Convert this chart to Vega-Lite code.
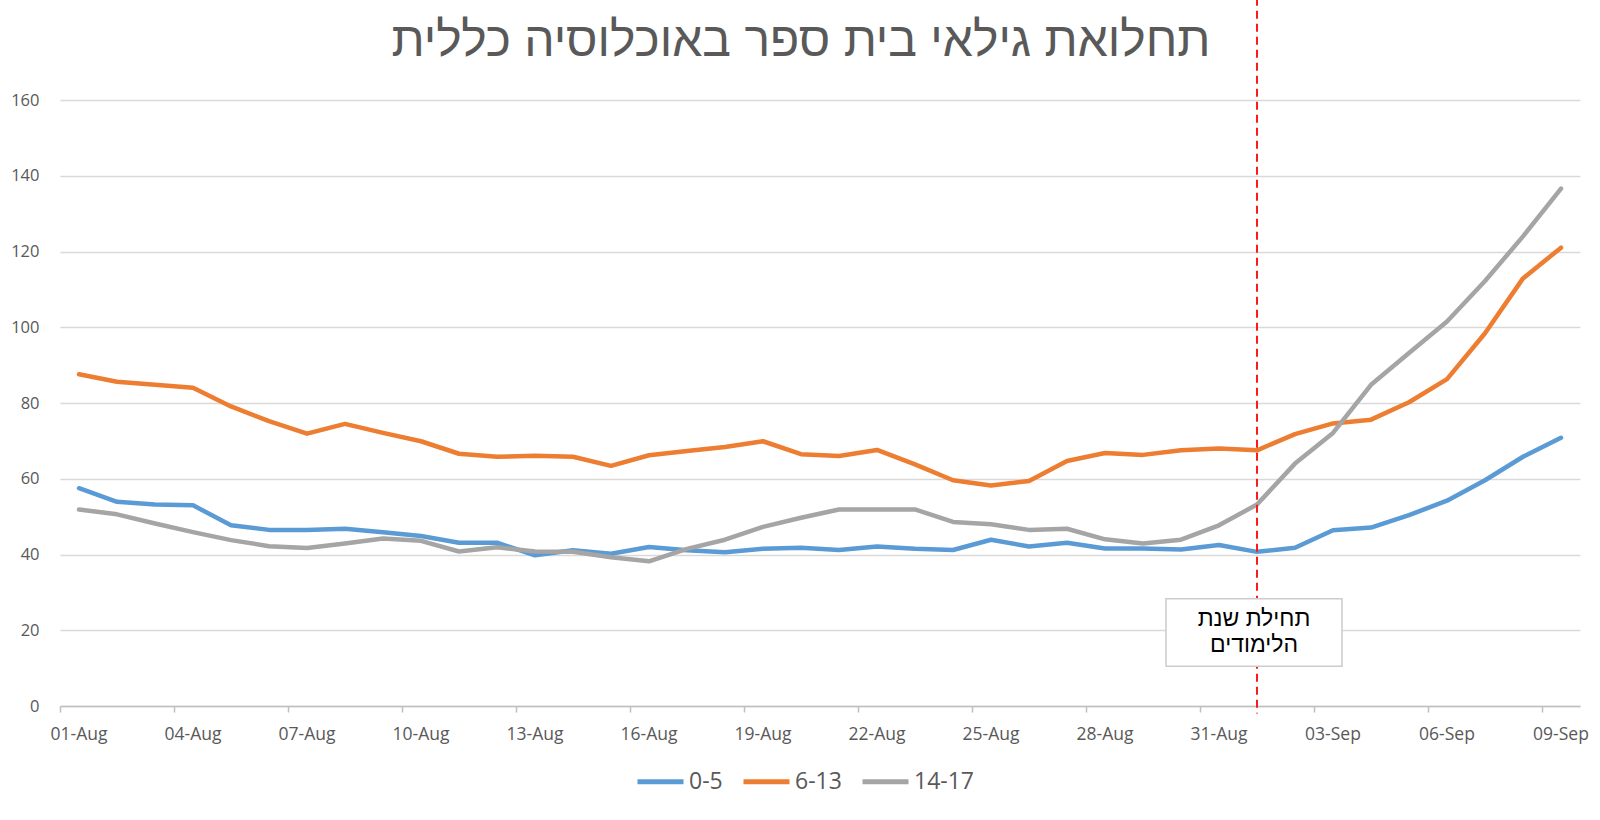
{
  "$schema": "https://vega.github.io/schema/vega-lite/v6.json",
  "autosize": {"type": "none"},
  "width": 1520,
  "height": 606,
  "padding": {"left": 60, "top": 100, "right": 20, "bottom": 114},
  "background": "white",
  "config": {"view": {"stroke": null}, "font": "Liberation Sans"},
  "title": {
    "text": "תחלואת גילאי בית ספר באוכלוסיה כללית",
    "fontSize": 48,
    "font": "Liberation Sans",
    "fontWeight": "normal",
    "color": "#595959",
    "anchor": "middle",
    "baseline": "alphabetic",
    "dx": -19,
    "offset": -107
  },
  "datasets": {
    "series": [
      {"date": "01-Aug", "group": "0-5", "value": 57.5}, {"date": "02-Aug", "group": "0-5", "value": 53.9}, {"date": "03-Aug", "group": "0-5", "value": 53.2}, {"date": "04-Aug", "group": "0-5", "value": 53.0}, {"date": "05-Aug", "group": "0-5", "value": 47.7}, {"date": "06-Aug", "group": "0-5", "value": 46.5}, {"date": "07-Aug", "group": "0-5", "value": 46.5}, {"date": "08-Aug", "group": "0-5", "value": 46.8}, {"date": "09-Aug", "group": "0-5", "value": 45.9}, {"date": "10-Aug", "group": "0-5", "value": 44.9}, {"date": "11-Aug", "group": "0-5", "value": 43.1}, {"date": "12-Aug", "group": "0-5", "value": 43.1}, {"date": "13-Aug", "group": "0-5", "value": 39.8}, {"date": "14-Aug", "group": "0-5", "value": 41.1}, {"date": "15-Aug", "group": "0-5", "value": 40.2}, {"date": "16-Aug", "group": "0-5", "value": 42.0}, {"date": "17-Aug", "group": "0-5", "value": 41.1}, {"date": "18-Aug", "group": "0-5", "value": 40.6}, {"date": "19-Aug", "group": "0-5", "value": 41.5}, {"date": "20-Aug", "group": "0-5", "value": 41.8}, {"date": "21-Aug", "group": "0-5", "value": 41.2}, {"date": "22-Aug", "group": "0-5", "value": 42.1}, {"date": "23-Aug", "group": "0-5", "value": 41.5}, {"date": "24-Aug", "group": "0-5", "value": 41.2}, {"date": "25-Aug", "group": "0-5", "value": 43.9}, {"date": "26-Aug", "group": "0-5", "value": 42.1}, {"date": "27-Aug", "group": "0-5", "value": 43.1}, {"date": "28-Aug", "group": "0-5", "value": 41.6}, {"date": "29-Aug", "group": "0-5", "value": 41.6}, {"date": "30-Aug", "group": "0-5", "value": 41.3}, {"date": "31-Aug", "group": "0-5", "value": 42.5}, {"date": "01-Sep", "group": "0-5", "value": 40.7}, {"date": "02-Sep", "group": "0-5", "value": 41.8}, {"date": "03-Sep", "group": "0-5", "value": 46.4}, {"date": "04-Sep", "group": "0-5", "value": 47.1}, {"date": "05-Sep", "group": "0-5", "value": 50.4}, {"date": "06-Sep", "group": "0-5", "value": 54.2}, {"date": "07-Sep", "group": "0-5", "value": 59.6}, {"date": "08-Sep", "group": "0-5", "value": 65.8}, {"date": "09-Sep", "group": "0-5", "value": 70.8},
      {"date": "01-Aug", "group": "6-13", "value": 87.6}, {"date": "02-Aug", "group": "6-13", "value": 85.6}, {"date": "03-Aug", "group": "6-13", "value": 84.8}, {"date": "04-Aug", "group": "6-13", "value": 84.0}, {"date": "05-Aug", "group": "6-13", "value": 79.1}, {"date": "06-Aug", "group": "6-13", "value": 75.2}, {"date": "07-Aug", "group": "6-13", "value": 71.9}, {"date": "08-Aug", "group": "6-13", "value": 74.5}, {"date": "09-Aug", "group": "6-13", "value": 72.1}, {"date": "10-Aug", "group": "6-13", "value": 69.9}, {"date": "11-Aug", "group": "6-13", "value": 66.6}, {"date": "12-Aug", "group": "6-13", "value": 65.8}, {"date": "13-Aug", "group": "6-13", "value": 66.1}, {"date": "14-Aug", "group": "6-13", "value": 65.8}, {"date": "15-Aug", "group": "6-13", "value": 63.4}, {"date": "16-Aug", "group": "6-13", "value": 66.2}, {"date": "17-Aug", "group": "6-13", "value": 67.3}, {"date": "18-Aug", "group": "6-13", "value": 68.4}, {"date": "19-Aug", "group": "6-13", "value": 69.9}, {"date": "20-Aug", "group": "6-13", "value": 66.5}, {"date": "21-Aug", "group": "6-13", "value": 66.0}, {"date": "22-Aug", "group": "6-13", "value": 67.6}, {"date": "23-Aug", "group": "6-13", "value": 63.8}, {"date": "24-Aug", "group": "6-13", "value": 59.6}, {"date": "25-Aug", "group": "6-13", "value": 58.2}, {"date": "26-Aug", "group": "6-13", "value": 59.4}, {"date": "27-Aug", "group": "6-13", "value": 64.7}, {"date": "28-Aug", "group": "6-13", "value": 66.8}, {"date": "29-Aug", "group": "6-13", "value": 66.3}, {"date": "30-Aug", "group": "6-13", "value": 67.5}, {"date": "31-Aug", "group": "6-13", "value": 68.0}, {"date": "01-Sep", "group": "6-13", "value": 67.5}, {"date": "02-Sep", "group": "6-13", "value": 71.8}, {"date": "03-Sep", "group": "6-13", "value": 74.6}, {"date": "04-Sep", "group": "6-13", "value": 75.6}, {"date": "05-Sep", "group": "6-13", "value": 80.2}, {"date": "06-Sep", "group": "6-13", "value": 86.3}, {"date": "07-Sep", "group": "6-13", "value": 98.4}, {"date": "08-Sep", "group": "6-13", "value": 112.9}, {"date": "09-Sep", "group": "6-13", "value": 121.0},
      {"date": "01-Aug", "group": "14-17", "value": 51.9}, {"date": "02-Aug", "group": "14-17", "value": 50.6}, {"date": "03-Aug", "group": "14-17", "value": 48.2}, {"date": "04-Aug", "group": "14-17", "value": 45.9}, {"date": "05-Aug", "group": "14-17", "value": 43.8}, {"date": "06-Aug", "group": "14-17", "value": 42.2}, {"date": "07-Aug", "group": "14-17", "value": 41.7}, {"date": "08-Aug", "group": "14-17", "value": 42.9}, {"date": "09-Aug", "group": "14-17", "value": 44.2}, {"date": "10-Aug", "group": "14-17", "value": 43.6}, {"date": "11-Aug", "group": "14-17", "value": 40.8}, {"date": "12-Aug", "group": "14-17", "value": 41.9}, {"date": "13-Aug", "group": "14-17", "value": 40.8}, {"date": "14-Aug", "group": "14-17", "value": 40.7}, {"date": "15-Aug", "group": "14-17", "value": 39.3}, {"date": "16-Aug", "group": "14-17", "value": 38.2}, {"date": "17-Aug", "group": "14-17", "value": 41.5}, {"date": "18-Aug", "group": "14-17", "value": 43.9}, {"date": "19-Aug", "group": "14-17", "value": 47.3}, {"date": "20-Aug", "group": "14-17", "value": 49.7}, {"date": "21-Aug", "group": "14-17", "value": 51.9}, {"date": "22-Aug", "group": "14-17", "value": 51.9}, {"date": "23-Aug", "group": "14-17", "value": 51.9}, {"date": "24-Aug", "group": "14-17", "value": 48.6}, {"date": "25-Aug", "group": "14-17", "value": 48.0}, {"date": "26-Aug", "group": "14-17", "value": 46.5}, {"date": "27-Aug", "group": "14-17", "value": 46.8}, {"date": "28-Aug", "group": "14-17", "value": 44.0}, {"date": "29-Aug", "group": "14-17", "value": 42.9}, {"date": "30-Aug", "group": "14-17", "value": 43.9}, {"date": "31-Aug", "group": "14-17", "value": 47.7}, {"date": "01-Sep", "group": "14-17", "value": 53.2}, {"date": "02-Sep", "group": "14-17", "value": 64.0}, {"date": "03-Sep", "group": "14-17", "value": 72.1}, {"date": "04-Sep", "group": "14-17", "value": 84.8}, {"date": "05-Sep", "group": "14-17", "value": 93.2}, {"date": "06-Sep", "group": "14-17", "value": 101.5}, {"date": "07-Sep", "group": "14-17", "value": 112.2}, {"date": "08-Sep", "group": "14-17", "value": 124.0}, {"date": "09-Sep", "group": "14-17", "value": 136.6}
    ],
    "marker": [{"date": "01-Sep", "label": "תחילת שנת\nהלימודים"}]
  },
  "encoding": {
    "x": {
      "field": "date",
      "type": "ordinal",
      "scale": {
        "type": "band",
        "paddingInner": 0,
        "paddingOuter": 0,
        "domain": ["01-Aug","02-Aug","03-Aug","04-Aug","05-Aug","06-Aug","07-Aug","08-Aug","09-Aug","10-Aug","11-Aug","12-Aug","13-Aug","14-Aug","15-Aug","16-Aug","17-Aug","18-Aug","19-Aug","20-Aug","21-Aug","22-Aug","23-Aug","24-Aug","25-Aug","26-Aug","27-Aug","28-Aug","29-Aug","30-Aug","31-Aug","01-Sep","02-Sep","03-Sep","04-Sep","05-Sep","06-Sep","07-Sep","08-Sep","09-Sep"]
      },
      "axis": {
        "title": null,
        "values": ["01-Aug","04-Aug","07-Aug","10-Aug","13-Aug","16-Aug","19-Aug","22-Aug","25-Aug","28-Aug","31-Aug","03-Sep","06-Sep","09-Sep"],
        "bandPosition": 0,
        "labelAngle": 0,
        "labelFont": "Open Sans",
        "labelFontSize": 17.5,
        "labelColor": "#595959",
        "labelPadding": 13,
        "labelBound": false,
        "domainColor": "#BFBFBF",
        "domainWidth": 1.5,
        "tickColor": "#BFBFBF",
        "tickWidth": 1.5,
        "tickSize": 6,
        "grid": false
      }
    }
  },
  "layer": [
    {
      "data": {"name": "series"},
      "mark": {"type": "line", "strokeWidth": 4.5, "strokeCap": "round", "strokeJoin": "round"},
      "encoding": {
        "y": {
          "field": "value",
          "type": "quantitative",
          "scale": {"domain": [0, 160], "nice": false},
          "axis": {
            "title": null,
            "values": [0, 20, 40, 60, 80, 100, 120, 140, 160],
            "domain": false,
            "ticks": false,
            "grid": true,
            "gridColor": "#D9D9D9",
            "gridWidth": 1.5,
            "labelFont": "Open Sans",
            "labelFontSize": 16.5,
            "labelColor": "#595959",
            "labelPadding": 21
          }
        },
        "color": {
          "field": "group",
          "type": "nominal",
          "scale": {"domain": ["0-5", "6-13", "14-17"], "range": ["#5B9BD5", "#ED7D31", "#A5A5A5"]},
          "legend": {
            "title": null,
            "orient": "none",
            "direction": "horizontal",
            "legendX": 575,
            "legendY": 656,
            "symbolType": "stroke",
            "symbolSize": 2116,
            "symbolStrokeWidth": 5,
            "labelFont": "Open Sans",
            "labelFontSize": 23,
            "labelColor": "#595959",
            "labelOffset": 3,
            "columnPadding": 10
          }
        }
      }
    },
    {
      "data": {"name": "marker"},
      "mark": {"type": "rule", "color": "#FF1A1A", "strokeWidth": 2, "strokeDash": [8, 5]},
      "encoding": {
        "y": {"datum": 187, "type": "quantitative"},
        "y2": {"datum": -2}
      }
    },
    {
      "data": {"name": "marker"},
      "mark": {"type": "bar", "width": 176, "xOffset": -3, "fill": "white", "stroke": "#CCCCCC", "strokeWidth": 1.5},
      "encoding": {
        "y": {"datum": 10.5, "type": "quantitative"},
        "y2": {"datum": 28.3}
      }
    },
    {
      "data": {"name": "marker"},
      "mark": {"type": "text", "font": "Liberation Sans", "fontSize": 23, "color": "#000000", "lineBreak": "\n", "lineHeight": 26, "align": "center", "baseline": "middle", "dx": -3},
      "encoding": {
        "y": {"datum": 23.1, "type": "quantitative"},
        "text": {"field": "label"}
      }
    }
  ]
}
